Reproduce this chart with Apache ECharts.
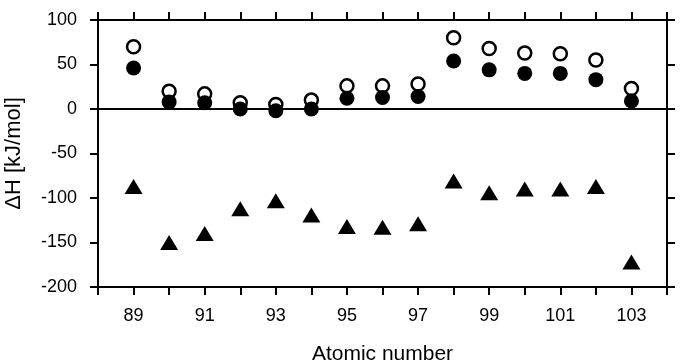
<!DOCTYPE html>
<html>
<head>
<meta charset="utf-8">
<script src="https://cdn.jsdelivr.net/npm/echarts@6/dist/echarts.min.js"></script>
<style>
  html, body { margin: 0; padding: 0; background: #fff; }
  #chart { width: 683px; height: 363px; }
</style>
</head>
<body>
<div id="chart"></div>
<script>
// atomic numbers (x)
const atomicNumbers = [89, 90, 91, 92, 93, 94, 95, 96, 97, 98, 99, 100, 101, 102, 103];
// open circles
const openCircle = [70, 20, 17, 7, 5, 10, 26, 26, 28, 80, 68, 63, 62, 55, 23];
// filled circles
const filledCircle = [46, 8, 7, 0, -2, 0, 12, 13, 14, 54, 44, 40, 40, 33, 9];
// filled triangles
const triangle = [-87, -150, -140, -112, -103, -119, -132, -133, -129, -81, -94, -90, -90, -87, -172];

const yTicks = { min: -200, max: 100, step: 50 };
const xRange = { min: 88, max: 104 };

function pairs(ys) {
  return atomicNumbers.map((x, i) => [x, ys[i]]);
}

const font = "'Liberation Sans', Arial, sans-serif";
const axisLine = { show: true, onZero: false, lineStyle: { color: '#000', width: 2 } };
const axisTick = { show: true, inside: false, length: 8, lineStyle: { color: '#000', width: 2 } };

const chart = echarts.init(document.getElementById('chart'));

const option = {
  animation: false,
  backgroundColor: '#fff',
  grid: { left: 98, right: 16, top: 20, bottom: 76, containLabel: false, outerBoundsMode: 'none' },
  xAxis: [
    {
      type: 'value',
      min: xRange.min, max: xRange.max, interval: 1,
      position: 'bottom',
      name: 'Atomic number',
      nameLocation: 'middle',
      nameGap: 57,
      nameTextStyle: { fontFamily: font, fontSize: 21, color: '#000' },
      axisLine: axisLine,
      axisTick: axisTick,
      splitLine: { show: false },
      axisLabel: {
        margin: 20,
        fontFamily: font, fontSize: 18, color: '#000',
        formatter: v => (v % 2 === 1 && v > xRange.min && v < xRange.max) ? String(v) : ''
      }
    },
    {
      type: 'value',
      min: xRange.min, max: xRange.max, interval: 1,
      position: 'top',
      axisLine: axisLine,
      axisTick: axisTick,
      splitLine: { show: false },
      axisLabel: { show: false }
    }
  ],
  yAxis: [
    {
      type: 'value',
      min: yTicks.min, max: yTicks.max, interval: yTicks.step,
      position: 'left',
      name: 'ΔH [kJ/mol]',
      nameLocation: 'middle',
      nameGap: 73,
      nameTextStyle: { fontFamily: font, fontSize: 22, color: '#000' },
      axisLine: axisLine,
      axisTick: axisTick,
      splitLine: { show: false },
      axisLabel: { margin: 21, fontFamily: font, fontSize: 18, color: '#000' }
    },
    {
      type: 'value',
      min: yTicks.min, max: yTicks.max, interval: yTicks.step,
      position: 'right',
      axisLine: axisLine,
      axisTick: axisTick,
      splitLine: { show: false },
      axisLabel: { show: false }
    }
  ],
  series: [
    {
      type: 'scatter',
      data: pairs(triangle),
      symbol: 'triangle',
      symbolSize: [18, 15],
      itemStyle: { color: '#000', opacity: 1 },
      markLine: {
        silent: true,
        symbol: 'none',
        label: { show: false },
        lineStyle: { color: '#000', width: 2, type: 'solid', opacity: 1 },
        data: [{ yAxis: 0 }]
      }
    },
    {
      type: 'scatter',
      data: pairs(openCircle),
      symbol: 'circle',
      symbolSize: 13,
      itemStyle: { color: '#fff', borderColor: '#000', borderWidth: 2.5, opacity: 1 }
    },
    {
      type: 'scatter',
      data: pairs(filledCircle),
      symbol: 'circle',
      symbolSize: 15,
      itemStyle: { color: '#000', opacity: 1 }
    }
  ]
};

chart.setOption(option);
window.addEventListener('resize', function () {
  chart.resize();
});
</script>
</body>
</html>
